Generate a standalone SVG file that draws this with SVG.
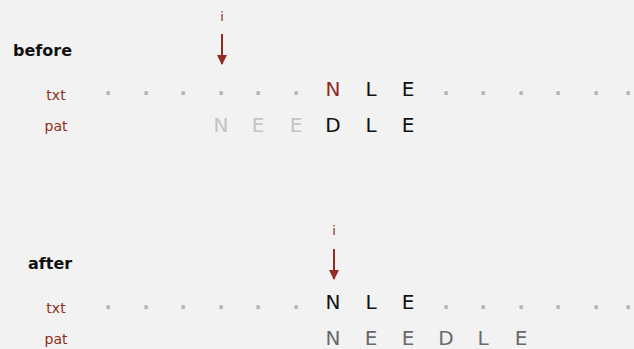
<svg xmlns="http://www.w3.org/2000/svg" width="634" height="349" viewBox="0 0 634 349">
<defs>
<style>
.lbl{font-family:"DejaVu Sans","Liberation Sans",sans-serif;font-size:14px;fill:#8f2d20;text-anchor:middle}
.hd{font-family:"DejaVu Sans","Liberation Sans",sans-serif;font-size:16px;font-weight:bold;fill:#111}
.ch{font-family:"DejaVu Sans","Liberation Sans",sans-serif;font-size:20px;text-anchor:middle;fill:#111}
.dot{fill:#b5b5b5;font-weight:bold;font-size:19px}
.faint{fill:#c4c4c4}
.mid{fill:#6a6a6a}
.red{fill:#922b21}
.arr{stroke:#922b21;stroke-width:2;fill:none}
</style>
<marker id="ah" viewBox="0 0 10 10" refX="9" refY="5" markerWidth="5" markerHeight="5" orient="auto" markerUnits="strokeWidth">
<path d="M0,0 L10,5 L0,10 z" fill="#922b21"/>
</marker>
</defs>
<rect width="634" height="349" fill="#f2f2f2"/>
<g id="before">
<text class="hd" x="13" y="56">before</text>
<text class="lbl" x="56" y="100">txt</text>
<text class="lbl" x="56" y="131">pat</text>
<text class="lbl" x="222" y="21" style="font-size:13px">i</text>
<g class="ch">
<text class="dot" x="108" y="95">.</text><text class="dot" x="146" y="95">.</text><text class="dot" x="183" y="95">.</text><text class="dot" x="221" y="95">.</text><text class="dot" x="258" y="95">.</text><text class="dot" x="296" y="95">.</text>
<text class="red" x="333" y="96">N</text><text x="371" y="96">L</text><text x="408" y="96">E</text>
<text class="dot" x="446" y="95">.</text><text class="dot" x="483" y="95">.</text><text class="dot" x="521" y="95">.</text><text class="dot" x="558" y="95">.</text><text class="dot" x="596" y="95">.</text><text class="dot" x="628" y="95">.</text>
<text class="faint" x="221" y="132">N</text><text class="faint" x="258" y="132">E</text><text class="faint" x="296" y="132">E</text>
<text x="333" y="132">D</text><text x="371" y="132">L</text><text x="408" y="132">E</text>
</g>
</g>
<g id="after">
<text class="hd" x="28" y="269">after</text>
<text class="lbl" x="56" y="313">txt</text>
<text class="lbl" x="56" y="344">pat</text>
<text class="lbl" x="334" y="235" style="font-size:13px">i</text>
<g class="ch">
<text class="dot" x="108" y="309">.</text><text class="dot" x="146" y="309">.</text><text class="dot" x="183" y="309">.</text><text class="dot" x="221" y="309">.</text><text class="dot" x="258" y="309">.</text><text class="dot" x="296" y="309">.</text>
<text x="333" y="309">N</text><text x="371" y="309">L</text><text x="408" y="309">E</text>
<text class="dot" x="446" y="309">.</text><text class="dot" x="483" y="309">.</text><text class="dot" x="521" y="309">.</text><text class="dot" x="558" y="309">.</text><text class="dot" x="596" y="309">.</text><text class="dot" x="628" y="309">.</text>
<text class="mid" x="333" y="345">N</text><text class="mid" x="371" y="345">E</text><text class="mid" x="408" y="345">E</text><text class="mid" x="446" y="345">D</text><text class="mid" x="483" y="345">L</text><text class="mid" x="521" y="345">E</text>
</g>
</g>
<g id="connectors">
<line class="arr" x1="222" y1="34" x2="222" y2="64" marker-end="url(#ah)"/>
<line class="arr" x1="334" y1="249" x2="334" y2="279" marker-end="url(#ah)"/>
</g>
</svg>
